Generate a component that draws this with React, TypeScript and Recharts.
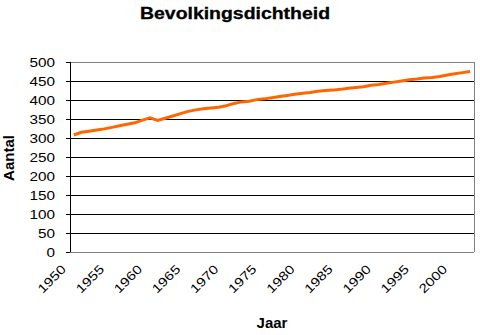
import { LineChart, Line, XAxis, YAxis, CartesianGrid, ReferenceLine } from 'recharts';

const years = [
  1950, 1951, 1952, 1953, 1954, 1955, 1956, 1957, 1958, 1959,
  1960, 1961, 1962, 1963, 1964, 1965, 1966, 1967, 1968, 1969,
  1970, 1971, 1972, 1973, 1974, 1975, 1976, 1977, 1978, 1979,
  1980, 1981, 1982, 1983, 1984, 1985, 1986, 1987, 1988, 1989,
  1990, 1991, 1992, 1993, 1994, 1995, 1996, 1997, 1998, 1999,
  2000, 2001, 2002,
];

const density = [
  308, 315, 318, 321, 324, 328, 332, 336, 340, 347,
  353, 346, 352, 358, 364, 370, 374, 377, 379, 381,
  385, 391, 395, 397, 401, 403, 406, 409, 412, 415,
  418, 420, 423, 425, 426, 428, 431, 433, 435, 439,
  441, 444, 447, 450, 453, 455, 458, 459, 462, 466,
  469, 472, 475,
];

const xTicks = [1950, 1955, 1960, 1965, 1970, 1975, 1980, 1985, 1990, 1995, 2000];
const yTicks = [0, 50, 100, 150, 200, 250, 300, 350, 400, 450, 500];

const data = years.map((jaar, i) => ({ jaar, aantal: density[i] }));

const font = '"Liberation Sans", Arial, sans-serif';

const YTick = (props: any) => {
  const { x, y, payload } = props;
  const label = String(payload.value);
  return (
    <text
      x={x}
      y={y}
      dy="0.36em"
      textAnchor="end"
      fontFamily={font}
      fontSize={12.5}
      fill="#000"
      textLength={label.length * 8.5}
      lengthAdjust="spacingAndGlyphs"
    >
      {label}
    </text>
  );
};

const XTick = (props: any) => {
  const { x, y, payload } = props;
  const ax = x - 7;
  const ay = y + 18;
  return (
    <text
      x={ax}
      y={ay}
      textAnchor="end"
      transform={`rotate(-45, ${ax}, ${ay})`}
      fontFamily={font}
      fontSize={12.5}
      fill="#000"
      textLength={34}
      lengthAdjust="spacingAndGlyphs"
    >
      {payload.value}
    </text>
  );
};

export default function App() {
  return (
    <div style={{ position: 'absolute', left: 0, top: 0, width: 480, height: 335, background: '#fff' }}>
      <svg width={480} height={335} style={{ position: 'absolute', left: 0, top: 0 }}>
        <text
          x={235}
          y={19}
          textAnchor="middle"
          fontFamily={font}
          fontWeight="bold"
          fontSize={16.5}
          textLength={190}
          lengthAdjust="spacingAndGlyphs"
          stroke="#000"
          strokeWidth={0.3}
        >
          Bevolkingsdichtheid
        </text>
        <text
          x={14}
          y={158}
          textAnchor="middle"
          transform="rotate(-90, 14, 158)"
          fontFamily={font}
          fontWeight="bold"
          fontSize={15}
        >
          Aantal
        </text>
        <text x={272} y={328} textAnchor="middle" fontFamily={font} fontWeight="bold" fontSize={15}>
          Jaar
        </text>
      </svg>
      <div style={{ position: 'absolute', left: 0, top: 0 }}>
        <LineChart width={480} height={335} data={data} margin={{ top: 62, right: 6, bottom: 23, left: 0 }}>
          <CartesianGrid vertical={false} stroke="#000" strokeWidth={1} shapeRendering="crispEdges" />
          <XAxis
            dataKey="jaar"
            type="number"
            domain={[1949.5, 2002.5]}
            ticks={xTicks}
            interval={0}
            height={60}
            tickLine={false}
            tickSize={0}
            tickMargin={0}
            axisLine={{ stroke: '#808080', shapeRendering: 'crispEdges' }}
            tick={<XTick />}
          />
          <YAxis
            width={70}
            domain={[0, 500]}
            ticks={yTicks}
            interval={0}
            tickSize={4}
            tickMargin={11}
            axisLine={{ stroke: '#000', shapeRendering: 'crispEdges' }}
            tickLine={{ stroke: '#000', shapeRendering: 'crispEdges' }}
            tick={<YTick />}
          />
          <ReferenceLine y={500} stroke="#808080" shapeRendering="crispEdges" />
          <ReferenceLine x={2002.5} stroke="#808080" shapeRendering="crispEdges" />
          <Line
            type="linear"
            dataKey="aantal"
            stroke="#FF6600"
            strokeWidth={3}
            dot={false}
            activeDot={false}
            isAnimationActive={false}
          />
        </LineChart>
      </div>
    </div>
  );
}
